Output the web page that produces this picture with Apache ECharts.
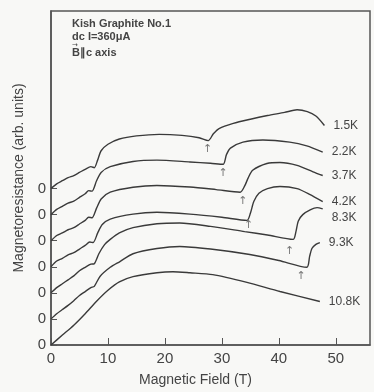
<!DOCTYPE html>
<html>
<head>
<meta charset="utf-8">
<script src="https://cdn.jsdelivr.net/npm/echarts@6/dist/echarts.min.js"></script>
<style>
  html, body { margin: 0; padding: 0; background: #f8f8f6; }
  #main { width: 374px; height: 392px; }
</style>
</head>
<body>
<div id="main"></div>
<script>
// temperatures, one curve each, offset upward by one step per curve
const temps = ['1.5K', '2.2K', '3.7K', '4.2K', '8.3K', '9.3K', '10.8K']
const offsets = [6, 5, 4, 3, 2, 1, 0]

// [field (T), magnetoresistance above its own zero]
const r15 = [[0,0],[1,0.18],[2,0.3],[3,0.42],[4,0.5],[5,0.62],[6,0.74],[7,0.84],[7.6,0.8],[8.2,1.1],[8.8,1.45],[10,1.7],[12,1.9],[15,2.02],[19,2.08],[23,2.04],[26,1.95],[27.6,1.84],[28.5,2.1],[29.5,2.3],[32,2.5],[35,2.66],[38,2.8],[41,2.92],[43.2,3.02],[45,2.95],[46.5,2.78],[48,2.42]]
const r22 = [[0,0],[1,0.2],[2,0.32],[3,0.44],[4,0.52],[5,0.66],[6,0.8],[6.6,0.92],[7.2,0.9],[8,1.3],[8.8,1.62],[10.4,1.84],[14.4,2.04],[18.6,2.09],[24.4,2.02],[28,1.97],[30.2,1.93],[30.8,2.3],[31.5,2.55],[33.7,2.78],[37.2,2.86],[41.9,2.78],[44.9,2.64],[47.7,2.4]]
const r37 = [[0,0],[1,0.2],[2,0.3],[3,0.42],[4,0.5],[5,0.64],[6,0.78],[6.6,0.9],[7.2,0.88],[8,1.25],[8.8,1.6],[10.4,1.86],[14.4,2.05],[18.6,2.12],[24.4,2.06],[29,1.96],[33.2,1.86],[34,2.1],[34.6,2.4],[35.4,2.7],[37.9,2.96],[40.2,3.0],[43.2,2.89],[46,2.64],[47.7,2.5]]
const r42 = [[0,0],[1,0.22],[2,0.32],[3,0.46],[4,0.54],[5,0.68],[6,0.82],[6.8,0.95],[7.4,0.93],[8.2,1.3],[9,1.62],[10.4,1.83],[14.4,2.02],[18.6,2.09],[24.4,2.02],[30,1.9],[34.4,1.78],[35,2.05],[35.6,2.5],[36.5,2.82],[38,3.0],[40.2,3.08],[43.2,3.0],[45.4,2.78],[47.7,2.5]]
const r83 = [[0,0],[1,0.2],[2,0.35],[3,0.5],[4,0.65],[5,0.85],[6,0.98],[7,1.1],[7.6,1.12],[8.4,1.5],[9.4,1.85],[10.4,2.05],[12,2.3],[14.4,2.5],[18.6,2.65],[22.6,2.68],[28,2.55],[34,2.35],[38,2.22],[42.5,2.05],[43,2.35],[43.4,2.75],[44.2,3.0],[45.5,3.18],[46.7,3.27],[47.7,3.22]]
const r93 = [[0,0],[1,0.2],[2,0.36],[3,0.52],[4,0.7],[5,0.9],[6,1.05],[7,1.2],[7.6,1.25],[8.6,1.63],[10.4,1.98],[12.1,2.2],[14.4,2.5],[18.6,2.7],[22.6,2.78],[28,2.68],[34.9,2.47],[40,2.24],[44.9,1.98],[45.4,2.4],[45.8,2.7],[46.5,2.86],[47.2,2.93]]
const r108 = [[0,0],[2,0.38],[4,0.76],[6,1.2],[8,1.68],[10,2.1],[12,2.42],[14.4,2.62],[18.6,2.77],[21.4,2.81],[24.4,2.77],[28.4,2.7],[34.4,2.4],[40.2,2.05],[47.2,1.67]]
const curves = [r15, r22, r37, r42, r83, r93, r108]

// arrows marking the transition field on each curve (field, level on the axis)
const arrowField = [27.5, 30.2, 33.7, 34.7, 41.9, 43.9]
const arrowLevel = [7.53, 6.58, 5.51, 4.6, 3.61, 2.66]

const zeroTicks = [0, 1, 2, 3, 4, 5, 6]
const xTicks = [0, 10, 20, 30, 40, 50]

const ink = '#3a3a3a'
const chart = echarts.init(document.getElementById('main'))

const series = curves.map((pts, i) => ({
  name: temps[i],
  type: 'line',
  data: pts.map(p => [p[0], p[1] + offsets[i]]),
  showSymbol: false,
  smooth: 0.25,
  lineStyle: { color: ink, width: 1.4 },
  endLabel: {
    show: true,
    formatter: '{a}',
    distance: 9,
    offset: temps[i] === '8.3K' ? [0, 9] : [0, 0],
    color: '#444',
    fontSize: 12,
    fontFamily: 'Liberation Sans'
  }
}))

series.push({
  type: 'scatter',
  data: arrowField.map((f, i) => [f, arrowLevel[i]]),
  symbolSize: 1,
  itemStyle: { color: 'rgba(0,0,0,0)' },
  label: {
    show: true,
    position: 'inside',
    formatter: '↑',
    color: '#555',
    fontSize: 11,
    fontFamily: 'DejaVu Sans'
  }
})

const option = {
  backgroundColor: '#f8f8f6',
  animation: false,
  grid: {
    left: 51, right: 4, top: 11, bottom: 44,
    show: true, borderColor: '#555', borderWidth: 1.5
  },
  xAxis: {
    type: 'value',
    min: 0, max: 56, interval: 10,
    name: 'Magnetic Field (T)',
    nameLocation: 'middle',
    nameGap: 28,
    nameTextStyle: { fontSize: 14, color: '#444', fontFamily: 'Liberation Sans', padding: [0, 30, 0, 0] },
    axisLine: { lineStyle: { color: '#555', width: 1.5 } },
    axisTick: { inside: true, length: 7, customValues: xTicks, lineStyle: { color: '#555' } },
    axisLabel: { customValues: xTicks, margin: 6, fontSize: 15, color: '#444', fontFamily: 'Liberation Sans' },
    splitLine: { show: false }
  },
  yAxis: {
    type: 'value',
    min: 0, max: 12.81,
    name: 'Magnetoresistance (arb. units)',
    nameLocation: 'middle',
    nameGap: 25,
    nameTextStyle: { fontSize: 14, color: '#444', fontFamily: 'Liberation Sans' },
    axisLine: { lineStyle: { color: '#555', width: 1.5 } },
    axisTick: { inside: true, length: 6, customValues: zeroTicks, lineStyle: { color: '#555' } },
    axisLabel: { customValues: zeroTicks, formatter: () => '0', margin: 5, fontSize: 15, color: '#444', fontFamily: 'Liberation Sans' },
    splitLine: { show: false }
  },
  graphic: [
    { type: 'text', left: 72, top: 18, style: { text: 'Kish Graphite No.1', fill: '#444', font: 'bold 11px Liberation Sans' } },
    { type: 'text', left: 72, top: 31, style: { text: 'dc I=360μA', fill: '#444', font: 'bold 11px Liberation Sans' } },
    { type: 'text', left: 72, top: 47, style: { text: 'B∥c axis', fill: '#444', font: 'bold 11px Liberation Sans' } },
    { type: 'text', left: 72, top: 42, style: { text: '→', fill: '#444', font: '7px DejaVu Sans' } }
  ],
  series: series
}

option && chart.setOption(option)
</script>
</body>
</html>
